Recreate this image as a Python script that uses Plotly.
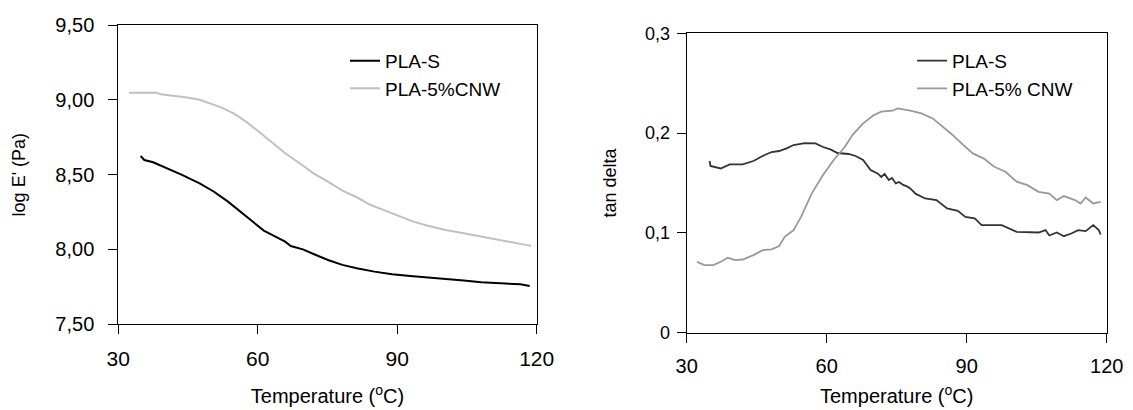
import plotly.graph_objects as go

# ---------------- data: storage modulus (left) ----------------
e_pla_s_T = [34.8, 35.6, 37.5, 40.6, 43.7, 47.5, 50.6, 53.6, 56.7, 59.8, 61.3, 63.6, 65.9, 67.1,
             69.7, 72.0, 75.1, 78.2, 81.3, 85.1, 88.9, 92.8, 96.6, 100.4, 104.3, 108.1, 111.9,
             116.5, 118.5]
e_pla_s_v = [8.625, 8.598, 8.583, 8.542, 8.498, 8.442, 8.386, 8.320, 8.242, 8.170, 8.126, 8.090,
             8.052, 8.023, 8.001, 7.970, 7.930, 7.897, 7.874, 7.852, 7.834, 7.823, 7.814, 7.801,
             7.792, 7.781, 7.774, 7.767, 7.756]

e_cnw_T = [32.3, 38.3, 39.1, 44.4, 47.5, 49.8, 52.1, 54.8, 57.5, 59.8, 62.8, 65.9, 69.0, 72.0,
           75.1, 78.2, 81.3, 84.3, 87.4, 90.5, 93.5, 96.6, 100.4, 104.3, 108.1, 111.9, 115.8, 118.8]
e_cnw_v = [9.048, 9.048, 9.037, 9.017, 9.000, 8.977, 8.950, 8.910, 8.854, 8.798, 8.721, 8.643,
           8.576, 8.509, 8.453, 8.393, 8.349, 8.297, 8.260, 8.224, 8.186, 8.159, 8.130, 8.108,
           8.086, 8.068, 8.046, 8.024]

# ---------------- data: tan delta (right) ----------------
t_pla_s_T = [34.9, 35.1, 37.3, 39.2, 42.0, 44.3, 46.7, 48.2, 49.8, 51.4, 52.9, 55.3, 57.6, 59.2,
             60.8, 62.3, 64.7, 66.2, 67.8, 69.4, 70.9, 71.7, 72.4, 73.3, 74.0, 74.8, 75.5, 76.4,
             77.2, 77.9, 79.1, 81.1, 83.5, 85.8, 88.1, 89.7, 91.7, 93.2, 97.5, 100.7, 105.4,
             106.9, 107.7, 109.3, 110.8, 112.4, 113.9, 115.5, 117.1, 118.3, 118.7]
t_pla_s_v = [0.172, 0.167, 0.1645, 0.1685, 0.1685, 0.172, 0.178, 0.181, 0.182, 0.1846, 0.188,
             0.190, 0.1896, 0.186, 0.1836, 0.180, 0.179, 0.177, 0.173, 0.163, 0.1595, 0.156,
             0.159, 0.153, 0.155, 0.1495, 0.151, 0.148, 0.1465, 0.1445, 0.139, 0.1344, 0.1328,
             0.1244, 0.122, 0.116, 0.1144, 0.1077, 0.1077, 0.101, 0.1003, 0.1027, 0.0973,
             0.1003, 0.0966, 0.0993, 0.1027, 0.1017, 0.1077, 0.1027, 0.0983]

t_cnw_T = [32.2, 33.8, 35.7, 37.3, 38.8, 40.4, 42.0, 44.3, 46.3, 48.2, 49.8, 51.0, 52.9, 54.5,
           56.8, 59.2, 61.5, 63.9, 65.5, 67.8, 70.1, 71.7, 74.1, 75.2, 77.9, 80.3, 82.7, 85.0,
           86.6, 88.9, 91.3, 93.6, 95.9, 98.3, 100.7, 103.0, 105.4, 107.7, 109.3, 110.8, 113.2,
           114.4, 115.5, 117.1, 118.7]
t_cnw_v = [0.0709, 0.0676, 0.0676, 0.0709, 0.0749, 0.0726, 0.0732, 0.0776, 0.0826, 0.0833,
           0.0866, 0.096, 0.1027, 0.116, 0.1395, 0.158, 0.173, 0.1863, 0.198, 0.2097, 0.218,
           0.2214, 0.2224, 0.2247, 0.2224, 0.2197, 0.2147, 0.2063, 0.1996, 0.1896, 0.1796,
           0.1746, 0.1662, 0.1612, 0.1512, 0.1478, 0.1411, 0.1394, 0.1328, 0.1368, 0.1328,
           0.1294, 0.1354, 0.1294, 0.1311]

x_tickvals = [30, 60, 90, 120]
x_ticktext = ["30", "60", "90", "120"]
left_y_tickvals = [7.5, 8.0, 8.5, 9.0, 9.5]
left_y_ticktext = ["7,50", "8,00", "8,50", "9,00", "9,50"]
right_y_tickvals = [0, 0.1, 0.2, 0.3]
right_y_ticktext = ["0", "0,1", "0,2", "0,3"]

FONT = "Liberation Sans, Arial, sans-serif"

fig = go.Figure()

fig.add_trace(go.Scatter(x=e_pla_s_T, y=e_pla_s_v, mode="lines", name="PLA-S",
                         line=dict(color="#000000", width=2), xaxis="x", yaxis="y",
                         legend="legend"))
fig.add_trace(go.Scatter(x=e_cnw_T, y=e_cnw_v, mode="lines", name="PLA-5%CNW",
                         line=dict(color="#c0c0c0", width=2), xaxis="x", yaxis="y",
                         legend="legend"))
fig.add_trace(go.Scatter(x=t_pla_s_T, y=t_pla_s_v, mode="lines", name="PLA-S",
                         line=dict(color="#333333", width=1.8), xaxis="x2", yaxis="y2",
                         legend="legend2"))
fig.add_trace(go.Scatter(x=t_cnw_T, y=t_cnw_v, mode="lines", name="PLA-5% CNW",
                         line=dict(color="#999999", width=1.8), xaxis="x2", yaxis="y2",
                         legend="legend2"))

axis_common = dict(showline=True, linecolor="#000000", linewidth=1, mirror=True,
                   ticks="outside", ticklen=9, tickcolor="#000000", tickwidth=1,
                   showgrid=False, zeroline=False, automargin=False)

fig.update_layout(
    width=1133, height=410,
    margin=dict(l=0, r=0, t=0, b=0, autoexpand=False),
    paper_bgcolor="white", plot_bgcolor="white",
    font=dict(family=FONT, color="#000000", size=20),
    xaxis=dict(domain=[0.1044, 0.4737], range=[30, 120], tickvals=x_tickvals,
               ticktext=x_ticktext, anchor="y", tickfont=dict(size=21),
               ticklabelstandoff=6,
               title=dict(text="Temperature (<sup>o</sup>C)", font=dict(size=20), standoff=20),
               **axis_common),
    yaxis=dict(domain=[0.209, 0.939], range=[7.5, 9.5], tickvals=left_y_tickvals,
               ticktext=left_y_ticktext, anchor="x", tickfont=dict(size=20),
               ticklabelstandoff=10,
               title=dict(text="log E' (Pa)", font=dict(size=18), standoff=25),
               **axis_common),
    xaxis2=dict(domain=[0.6061, 0.9768], range=[30, 120], tickvals=x_tickvals,
                ticktext=x_ticktext, anchor="y2", tickfont=dict(size=20),
                ticklabelstandoff=6,
                title=dict(text="Temperature (<sup>o</sup>C)", font=dict(size=20), standoff=13),
                **axis_common),
    yaxis2=dict(domain=[0.189, 0.9187], range=[0, 0.3], tickvals=right_y_tickvals,
                ticktext=right_y_ticktext, anchor="x2", tickfont=dict(size=18),
                ticklabelstandoff=3,
                title=dict(text="tan delta", font=dict(size=18), standoff=23),
                **axis_common),
    legend=dict(x=0.3045, y=0.898, xanchor="left", yanchor="top",
                bgcolor="rgba(0,0,0,0)", font=dict(size=19), tracegroupgap=0),
    legend2=dict(x=0.805, y=0.898, xanchor="left", yanchor="top",
                 bgcolor="rgba(0,0,0,0)", font=dict(size=19), tracegroupgap=0),
)

fig.write_html("out.html")
